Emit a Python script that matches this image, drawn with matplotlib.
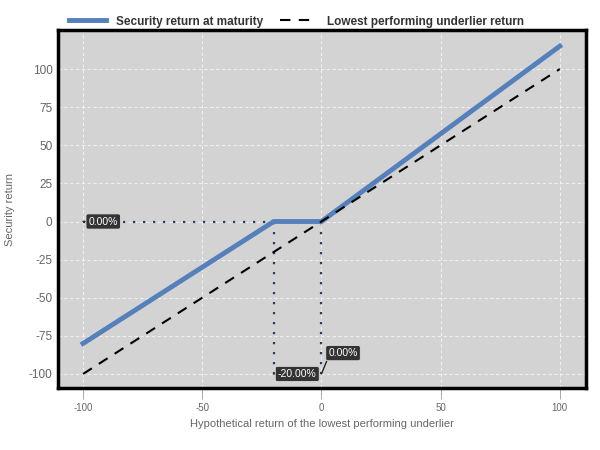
import matplotlib
matplotlib.use("Agg")
from matplotlib import pyplot as plt

# payoff data
underlier_x = [-100, -20, 0, 100]
security_y = [-80, 0, 0, 115]
underlier_line_x = [-100, 100]
underlier_line_y = [-100, 100]

buffer_level = -20
floor_return = 0.0
x_ticks = [-100, -50, 0, 50, 100]
y_ticks = [-100, -75, -50, -25, 0, 25, 50, 75, 100]

BLUE = "#5580bb"
NAVY = "#2b3a67"
GRAY_TXT = "#666666"


def tag(ax, text, xy, xytext, relpos=(0.5, 0.5)):
    ax.annotate(
        text, xy=xy, xytext=xytext, textcoords="offset points",
        fontsize=7.5, color="white", ha="left", va="center",
        bbox=dict(boxstyle="round,pad=0.25,rounding_size=0.2", fc="#333333",
                  ec="#dddddd", lw=0.6),
        arrowprops=dict(arrowstyle="-", color="#222222", lw=1, relpos=relpos,
                        shrinkA=0, shrinkB=0),
        zorder=10,
    )


def main():
    plt.rcParams["font.family"] = ["Liberation Sans", "DejaVu Sans"]
    plt.rcParams["axes.unicode_minus"] = False

    fig = plt.figure(figsize=(6, 4.5), dpi=100)
    ax = fig.add_axes([58 / 600, 62 / 450, 528 / 600, 358 / 450])
    ax.set_facecolor("#d3d3d3")

    ax.set_xlim(-110.5, 111)
    ax.set_ylim(-109.2, 125.6)
    ax.set_xticks(x_ticks)
    ax.set_yticks(y_ticks)
    ax.grid(True, color="white", linestyle=(0, (4, 3)), linewidth=0.6, alpha=0.8)
    ax.set_axisbelow(True)

    for s in ax.spines.values():
        s.set_linewidth(2.5)
        s.set_color("black")

    ax.tick_params(axis="x", colors="#999999", labelcolor=GRAY_TXT, labelsize=7,
                   length=8, width=0.6, pad=3)
    ax.tick_params(axis="y", length=0, labelcolor=GRAY_TXT, labelsize=8.5, pad=4)
    ax.set_xlabel("Hypothetical return of the lowest performing underlier",
                  color=GRAY_TXT, fontsize=8, labelpad=4)
    ax.set_ylabel("Security return", color=GRAY_TXT, fontsize=8, labelpad=10)

    # reference dotted lines
    ax.plot([underlier_x[0], buffer_level], [floor_return, floor_return],
            color=NAVY, linestyle=(0, (1, 3.5)), linewidth=1.6, zorder=3)
    ax.plot([buffer_level, buffer_level], [floor_return, y_ticks[0]],
            color=NAVY, linestyle=(0, (1, 3.5)), linewidth=1.6, zorder=3)
    ax.plot([0, 0], [floor_return, y_ticks[0]],
            color=NAVY, linestyle=(0, (1, 3.5)), linewidth=1.6, zorder=3)

    ax.plot(underlier_x, security_y, color=BLUE, linewidth=3.5,
            label="Security return at maturity", zorder=4)
    ax.plot(underlier_line_x, underlier_line_y, color="black", linewidth=1.5,
            linestyle=(0, (5, 4)), label="Lowest performing underlier return", zorder=5)

    tag(ax, "0.00%", (underlier_x[0], floor_return), (4, 0), relpos=(0, 0.5))
    tag(ax, f"{buffer_level:.2f}%", (buffer_level, y_ticks[0]), (3, 0), relpos=(0, 0.5))
    tag(ax, f"{floor_return:.2f}%", (0, y_ticks[0]), (5, 15), relpos=(0, 0.1))

    fig.legend(loc="upper left", bbox_to_anchor=(58 / 600, 1 - 5 / 450), ncol=2,
               frameon=False, handlelength=3.2, columnspacing=1.4,
               prop={"weight": "bold", "size": 8.5}, labelcolor="#333333")

    fig.savefig("out.png", dpi=100)


if __name__ == "__main__":
    main()
